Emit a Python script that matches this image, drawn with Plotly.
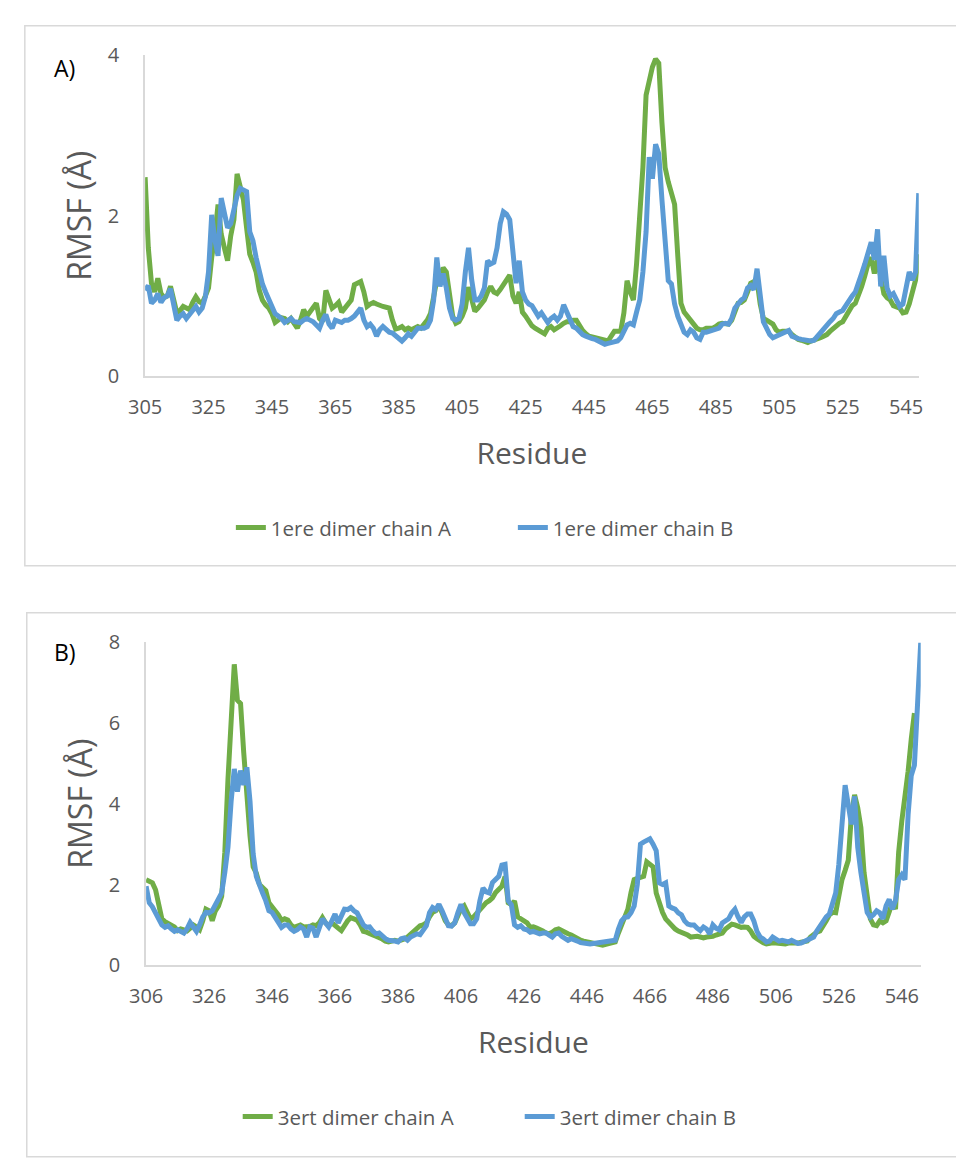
import plotly.graph_objects as go

# ---------------- Data ----------------
res_a_start = 305
rmsf_1ere_A = [2.48,1.6,1.16,1.05,1.22,1.03,0.98,1.0,1.12,0.95,
0.79,0.82,0.87,0.85,0.83,0.92,0.99,0.93,0.91,1.0,
1.1,1.48,1.75,2.14,1.77,1.6,1.44,1.75,1.95,2.52,
2.35,2.2,1.85,1.52,1.42,1.3,1.07,0.95,0.89,0.85,
0.78,0.67,0.7,0.73,0.72,0.68,0.72,0.66,0.6,0.7,
0.83,0.75,0.8,0.86,0.91,0.72,0.68,1.07,0.95,0.85,
0.88,0.92,0.8,0.85,0.91,0.95,1.14,1.16,1.18,1.05,
0.87,0.9,0.92,0.9,0.88,0.87,0.86,0.85,0.7,0.59,
0.6,0.62,0.58,0.6,0.58,0.6,0.62,0.6,0.65,0.7,
0.78,1.0,1.2,1.25,1.35,1.3,1.0,0.75,0.66,0.68,
0.75,0.85,1.11,0.95,0.81,0.85,0.9,0.95,1.05,1.12,
1.05,1.03,1.08,1.15,1.22,1.26,1.0,0.91,1.05,0.8,
0.75,0.68,0.63,0.6,0.58,0.55,0.53,0.6,0.62,0.58,
0.6,0.63,0.66,0.68,0.68,0.7,0.7,0.62,0.57,0.53,
0.5,0.49,0.48,0.47,0.46,0.45,0.44,0.5,0.56,0.56,
0.56,0.79,1.19,1.05,0.95,1.4,1.93,2.6,3.5,3.7,
3.85,3.95,3.9,3.16,2.6,2.42,2.3,2.14,1.5,0.91,
0.8,0.75,0.7,0.65,0.6,0.58,0.58,0.6,0.6,0.6,
0.62,0.65,0.66,0.65,0.65,0.7,0.8,0.91,0.92,0.95,
1.05,1.16,1.18,1.19,0.9,0.72,0.7,0.68,0.65,0.58,
0.55,0.56,0.56,0.56,0.52,0.48,0.46,0.45,0.43,0.42,
0.44,0.45,0.46,0.48,0.5,0.52,0.56,0.6,0.64,0.66,
0.68,0.75,0.82,0.88,0.91,1.0,1.12,1.25,1.4,1.48,
1.28,1.45,1.2,1.03,0.98,0.95,0.88,0.87,0.85,0.79,
0.8,0.9,1.05,1.2,1.52]
rmsf_1ere_B = [1.07,1.13,0.91,0.95,1.03,0.92,0.98,1.0,1.09,0.9,
0.7,0.75,0.78,0.72,0.78,0.82,0.87,0.8,0.85,0.99,
1.3,2.01,1.7,1.5,2.22,2.0,1.85,1.9,2.1,2.25,
2.34,2.32,2.3,1.8,1.69,1.48,1.3,1.15,1.05,0.95,
0.85,0.78,0.75,0.72,0.67,0.7,0.72,0.68,0.67,0.67,
0.7,0.72,0.7,0.68,0.64,0.6,0.7,0.77,0.65,0.6,
0.7,0.68,0.67,0.7,0.7,0.72,0.75,0.8,0.85,0.7,
0.62,0.65,0.6,0.5,0.58,0.62,0.58,0.55,0.54,0.5,
0.47,0.44,0.48,0.53,0.5,0.55,0.6,0.6,0.6,0.62,
0.7,0.95,1.48,1.12,1.28,1.1,0.85,0.72,0.7,0.72,
0.9,1.3,1.6,1.2,0.95,0.95,1.0,1.1,1.44,1.4,
1.42,1.6,1.9,2.05,2.02,1.95,1.5,1.16,1.44,1.05,
0.95,0.9,0.88,0.8,0.75,0.79,0.72,0.67,0.72,0.75,
0.7,0.75,0.89,0.8,0.7,0.62,0.6,0.55,0.52,0.5,
0.48,0.47,0.46,0.44,0.42,0.4,0.41,0.42,0.43,0.44,
0.48,0.56,0.64,0.66,0.64,0.8,0.95,1.3,1.8,2.73,
2.46,2.89,2.77,2.2,1.73,1.19,1.15,0.9,0.75,0.65,
0.55,0.52,0.58,0.55,0.48,0.46,0.55,0.55,0.56,0.58,
0.58,0.6,0.65,0.66,0.65,0.72,0.85,0.91,0.95,0.98,
1.1,1.13,1.08,1.34,1.0,0.68,0.6,0.52,0.48,0.5,
0.52,0.53,0.55,0.57,0.5,0.48,0.47,0.46,0.45,0.44,
0.44,0.45,0.5,0.55,0.6,0.65,0.68,0.72,0.78,0.8,
0.82,0.88,0.95,1.0,1.05,1.15,1.28,1.4,1.55,1.67,
1.45,1.83,1.12,1.5,1.1,1.0,1.03,0.95,0.87,0.9,
1.1,1.3,1.2,1.3,2.28]

res_b_start = 306
rmsf_3ert_A = [2.12,2.08,2.04,1.87,1.47,1.15,1.08,1.03,0.98,0.95,
0.86,0.9,0.88,0.85,0.92,1.0,0.95,0.88,1.1,1.39,
1.35,1.1,1.35,1.47,1.71,2.8,4.6,6.2,7.45,6.56,
6.48,5.27,4.06,3.2,2.44,2.28,2.0,1.9,1.85,1.55,
1.45,1.4,1.25,1.11,1.15,1.12,1.0,0.94,0.96,1.0,
0.95,0.94,0.96,1.0,0.98,1.05,1.18,1.05,0.98,1.05,
1.0,0.92,0.86,1.0,1.1,1.18,1.15,1.12,1.0,0.84,
0.82,0.8,0.75,0.72,0.7,0.65,0.6,0.58,0.6,0.62,
0.6,0.62,0.65,0.7,0.78,0.86,0.9,0.98,1.0,1.05,
1.2,1.31,1.35,1.47,1.3,1.1,1.0,0.98,1.05,1.2,
1.4,1.47,1.3,1.15,1.2,1.3,1.39,1.45,1.55,1.6,
1.67,1.8,1.9,1.96,2.2,1.55,1.5,1.59,1.2,1.15,
1.1,1.05,0.94,0.95,0.92,0.9,0.85,0.8,0.78,0.82,
0.88,0.9,0.85,0.8,0.78,0.75,0.7,0.65,0.62,0.6,
0.58,0.56,0.55,0.52,0.5,0.5,0.52,0.55,0.56,0.58,
0.8,1.02,1.15,1.39,1.8,2.12,2.15,2.18,2.2,2.56,
2.5,2.44,1.79,1.5,1.31,1.15,1.06,0.98,0.9,0.85,
0.82,0.8,0.75,0.7,0.72,0.72,0.7,0.68,0.7,0.7,
0.72,0.75,0.76,0.8,0.9,0.98,1.02,1.0,0.96,0.94,
0.95,0.94,0.85,0.72,0.66,0.6,0.56,0.53,0.55,0.56,
0.55,0.54,0.56,0.53,0.55,0.54,0.53,0.55,0.57,0.6,
0.6,0.7,0.78,0.82,0.85,0.95,1.1,1.25,1.31,1.3,
1.8,2.12,2.35,2.6,3.73,4.22,3.9,3.41,2.3,1.79,
1.15,1.0,0.98,1.1,1.05,1.1,1.35,1.55,1.39,2.8,
3.57,4.14,4.8,5.6,6.24]
rmsf_3ert_B = [1.96,1.55,1.45,1.3,1.11,1.0,0.94,0.98,0.9,0.84,
0.88,0.85,0.8,0.9,1.06,0.95,0.84,1.0,1.2,1.31,
1.3,1.35,1.5,1.6,1.79,2.3,2.92,4.06,4.86,4.3,
4.82,4.46,4.9,4.06,2.76,2.2,1.96,1.79,1.6,1.35,
1.31,1.2,1.05,0.94,1.0,1.0,0.9,0.84,0.88,0.95,
0.9,0.7,0.95,0.92,0.7,0.95,1.15,1.05,0.95,1.1,
1.27,1.05,1.2,1.39,1.38,1.43,1.35,1.3,1.15,1.0,
0.94,0.95,0.85,0.78,0.8,0.72,0.66,0.62,0.62,0.6,
0.58,0.66,0.68,0.62,0.7,0.75,0.78,0.76,0.9,0.98,
1.3,1.43,1.38,1.51,1.35,1.15,0.98,0.97,1.05,1.3,
1.51,1.3,1.15,1.03,1.03,1.15,1.6,1.91,1.82,1.79,
2.05,2.15,2.2,2.48,2.5,1.6,1.5,1.0,0.94,0.98,
0.9,0.88,0.82,0.84,0.8,0.78,0.8,0.8,0.75,0.7,
0.78,0.8,0.72,0.66,0.62,0.66,0.64,0.6,0.56,0.54,
0.54,0.53,0.54,0.55,0.56,0.58,0.6,0.6,0.62,0.62,
0.9,1.1,1.19,1.2,1.3,1.47,2.0,3.0,3.05,3.08,
3.13,3.0,2.84,2.04,2.0,2.04,1.47,1.42,1.39,1.3,
1.25,1.1,1.02,1.0,1.0,0.92,0.86,0.95,0.9,0.78,
1.0,0.92,0.88,1.05,1.1,1.15,1.3,1.39,1.2,1.06,
1.2,1.27,1.27,1.1,0.84,0.7,0.65,0.58,0.6,0.7,
0.65,0.6,0.62,0.6,0.58,0.62,0.58,0.54,0.55,0.58,
0.62,0.66,0.7,0.85,0.98,1.1,1.2,1.27,1.5,1.79,
2.5,3.7,4.46,3.97,3.49,4.18,2.92,2.3,1.87,1.31,
1.19,1.25,1.35,1.3,1.15,1.47,1.63,1.39,1.6,2.12,
2.24,2.12,3.73,4.7,4.95,6.4,7.98]

x_ticks_a = list(range(305, 546, 20))
x_ticks_b = list(range(306, 547, 20))
y_ticks_a = [0, 2, 4]
y_ticks_b = [0, 2, 4, 6, 8]

labels_a = ["1ere dimer chain A", "1ere dimer chain B"]
labels_b = ["3ert dimer chain A", "3ert dimer chain B"]

GREEN = "#70AD47"
BLUE = "#5B9BD5"
GRAY = "#595959"
AXISLINE = "#D9D9D9"
FONT = "Open Sans"

W, H = 956, 1160
def px(x):
    return x / W
def py(y):
    return 1 - y / H

res_a1 = list(range(res_a_start, res_a_start + len(rmsf_1ere_A)))
res_a2 = list(range(res_a_start, res_a_start + len(rmsf_1ere_B)))
res_b1 = list(range(res_b_start, res_b_start + len(rmsf_3ert_A)))
res_b2 = list(range(res_b_start, res_b_start + len(rmsf_3ert_B)))

LW = 5
fig = go.Figure()
fig.add_trace(go.Scatter(x=res_a1, y=rmsf_1ere_A, mode="lines", name=labels_a[0],
                         line=dict(color=GREEN, width=LW), xaxis="x", yaxis="y", legend="legend"))
fig.add_trace(go.Scatter(x=res_a2, y=rmsf_1ere_B, mode="lines", name=labels_a[1],
                         line=dict(color=BLUE, width=LW), xaxis="x", yaxis="y", legend="legend"))
fig.add_trace(go.Scatter(x=res_b1, y=rmsf_3ert_A, mode="lines", name=labels_b[0],
                         line=dict(color=GREEN, width=LW), xaxis="x2", yaxis="y2", legend="legend2"))
fig.add_trace(go.Scatter(x=res_b2, y=rmsf_3ert_B, mode="lines", name=labels_b[1],
                         line=dict(color=BLUE, width=LW), xaxis="x2", yaxis="y2", legend="legend2"))

tickfont = dict(family=FONT, size=20, color=GRAY)
ytitlefont = dict(family=FONT, size=32, color=GRAY)
xtitlefont = dict(family=FONT, size=30, color=GRAY)
legfont = dict(family=FONT, size=20.5, color=GRAY)

common_x = dict(showgrid=False, zeroline=False, showline=True, linecolor=AXISLINE, linewidth=2,
                ticks="", tickfont=tickfont, ticklabelstandoff=12, fixedrange=True)
common_y = dict(showgrid=False, zeroline=False, showline=True, linecolor=AXISLINE, linewidth=2,
                ticks="", tickfont=tickfont, ticklabelstandoff=20, fixedrange=True)

fig.update_layout(
    width=W, height=H,
    margin=dict(l=0, r=0, t=0, b=0),
    paper_bgcolor="white", plot_bgcolor="white",
    font=dict(family=FONT, color=GRAY),
    xaxis=dict(**common_x, domain=[px(131), px(922)], range=[305, 549], anchor="y",
               tickvals=x_ticks_a,
               title=dict(text="Residue", font=xtitlefont, standoff=24)),
    yaxis=dict(**common_y, domain=[py(371), py(42)], range=[0, 4], anchor="x",
               tickvals=y_ticks_a,
               title=dict(text="RMSF (Å)", font=ytitlefont, standoff=6)),
    xaxis2=dict(**common_x, domain=[px(132), px(924)], range=[306, 552], anchor="y2",
                tickvals=x_ticks_b,
                title=dict(text="Residue", font=xtitlefont, standoff=24)),
    yaxis2=dict(**common_y, domain=[py(974), py(643)], range=[0, 8], anchor="x2",
                tickvals=y_ticks_b,
                title=dict(text="RMSF (Å)", font=ytitlefont, standoff=6)),
    legend=dict(orientation="h", x=px(507), xanchor="center", y=py(526), yanchor="middle",
                font=legfont, bgcolor="rgba(0,0,0,0)", itemwidth=30, tracegroupgap=0,
                entrywidth=237, entrywidthmode="pixels"),
    legend2=dict(orientation="h", x=px(514), xanchor="center", y=py(1129), yanchor="middle",
                 font=legfont, bgcolor="rgba(0,0,0,0)", itemwidth=30, tracegroupgap=0,
                 entrywidth=237, entrywidthmode="pixels"),
    showlegend=True,
    shapes=[
        dict(type="rect", xref="paper", yref="paper", x0=px(8), x1=px(962), y0=py(565), y1=py(12),
             line=dict(color=AXISLINE, width=1.5), fillcolor="rgba(0,0,0,0)", layer="below"),
        dict(type="rect", xref="paper", yref="paper", x0=px(10), x1=px(962), y0=py(1170), y1=py(613),
             line=dict(color=AXISLINE, width=1.5), fillcolor="rgba(0,0,0,0)", layer="below"),
    ],
    annotations=[
        dict(text="A)", xref="paper", yref="paper", x=px(36), y=py(55), xanchor="left", yanchor="middle",
             showarrow=False, font=dict(family=FONT, size=23, color="black")),
        dict(text="B)", xref="paper", yref="paper", x=px(36), y=py(653), xanchor="left", yanchor="middle",
             showarrow=False, font=dict(family=FONT, size=23, color="black")),
    ],
)

fig.write_html("out.html",
               post_script="document.documentElement.style.margin='0';document.body.style.margin='0';document.body.style.overflow='hidden';")
